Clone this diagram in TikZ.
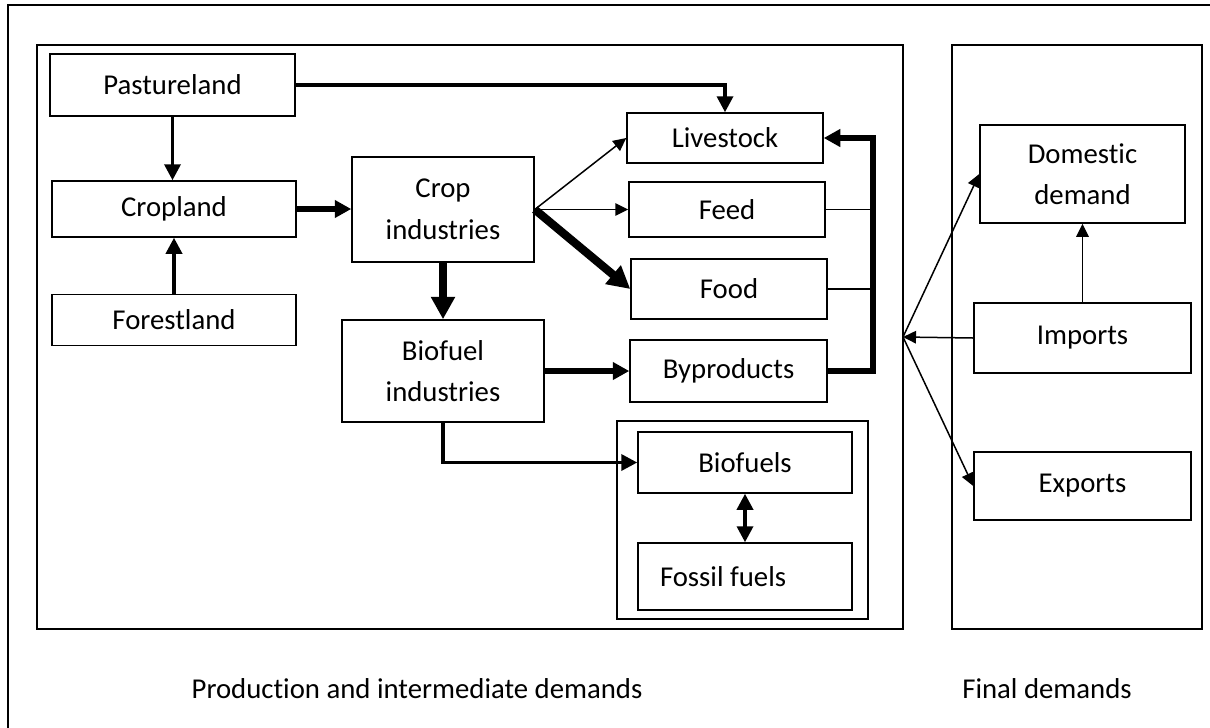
\documentclass[tikz,border=0pt]{standalone}
\usepackage{fontspec}
\setmainfont{Carlito}[Ligatures={CommonOff,ContextualOff}]
\usetikzlibrary{arrows.meta}

\tikzset{
  box/.style={draw, line width=0.6pt, inner sep=0pt, align=center},
  ltip/.tip={Triangle[length=5.2pt,width=5pt]},
  mtip/.tip={Triangle[length=6.4pt,width=6.4pt]},
  btip/.tip={Triangle[length=6.6pt,width=6.8pt]},
  htip/.tip={Triangle[length=9pt,width=9.2pt]},
  lflow/.style={line width=0.6pt, -ltip},
  mflow/.style={line width=1.4pt, -mtip},
  bflow/.style={line width=2.3pt, -btip},
  hflow/.style={line width=3.3pt, -htip}
}

\begin{document}
\begin{tikzpicture}[x=0.4pt, y=-0.4pt, every node/.style={font=\fontsize{11.5}{16.6}\selectfont}]
  \useasboundingbox (0,0) rectangle (1210,727);

  % frames
  \draw[line width=0.6pt] (8,5) rectangle (1240,745);
  \draw[line width=0.6pt] (37,45) rectangle (903,629);
  \draw[line width=0.6pt] (952,45) rectangle (1202,629);
  \draw[line width=0.8pt] (617,421) rectangle (868,619);

  % land
  \node[box, minimum width=98pt, minimum height=24.8pt] (pasture) at (172.5,85) {Pastureland};
  \node[box, minimum width=97.6pt, minimum height=22.4pt] (cropland) at (174,209) {Cropland};
  \node[box, minimum width=97.6pt, minimum height=20.4pt] (forest) at (174,320) {Forestland};

  % industries
  \node[box, minimum width=72.8pt, minimum height=42pt] (cropind) at (443,209.5) {Crop\\industries};
  \node[box, minimum width=80.8pt, minimum height=40.8pt] (bioind) at (443,371) {Biofuel\\industries};

  % products
  \node[box, minimum width=78.4pt, minimum height=20pt] (livestock) at (725,138) {Livestock};
  \node[box, minimum width=78.4pt, minimum height=22pt] (feed) at (727,209.5) {Feed};
  \node[box, minimum width=78.4pt, minimum height=24pt] (food) at (729,289) {Food};
  \node[box, minimum width=78.8pt, minimum height=24.8pt] (byprod) at (728.5,371) {Byproducts};
  \node[box, minimum width=85.6pt, minimum height=24.4pt] (biofuels) at (745,462.5) {Biofuels};
  \node[box, minimum width=85.6pt, minimum height=26.8pt, text width=68pt, align=flush left] (fossil) at (745,576.5) {Fossil fuels};

  % final demands
  \node[box, minimum width=82pt, minimum height=39.2pt] (domestic) at (1082.5,174) {Domestic\\demand};
  \node[box, minimum width=86.8pt, minimum height=28pt] (imports) at (1082.5,338) {Imports};
  \node[box, minimum width=86.8pt, minimum height=27.2pt] (exports) at (1082.5,486) {Exports};

  \coordinate (bus) at (873,371);
  \coordinate (hub) at (903,337);

  \draw[mflow] (pasture.east) -| (livestock.north);
  \draw[mflow] (pasture.south) -- (pasture.south |- cropland.north);
  \draw[mflow] (forest.north) -- (cropland.south);
  \draw[bflow] (cropland.east) -- (cropland.east -| cropind.west);

  \draw[lflow] (cropind.east) -- (livestock.west);
  \draw[lflow] (cropind.east) -- (feed.west);
  \draw[hflow] (cropind.east) -- (food.west);
  \draw[hflow] (cropind.south) -- (bioind.north);

  \draw[bflow] (bioind.east) -- (byprod.west);
  \draw[bflow] (byprod.east) -- (bus) |- (livestock.east);
  \draw[line width=0.6pt] (feed.east) -- (feed.east -| bus);
  \draw[line width=0.6pt] (food.east) -- (food.east -| bus);

  \draw[mflow] (bioind.south) |- (biofuels.west);
  \draw[line width=1.4pt, mtip-mtip] (biofuels.south) -- (fossil.north);

  \draw[lflow] (imports.west) -- (hub);
  \draw[lflow] (hub) -- (domestic.west);
  \draw[lflow] (hub) -- (exports.west);
  \draw[lflow] (imports.north) -- (domestic.south);

  \node[anchor=base] (prodlabel) at (417,698) {Production and intermediate demands};
  \node[anchor=base] (finallabel) at (1047,698) {Final demands};
\end{tikzpicture}
\end{document}
